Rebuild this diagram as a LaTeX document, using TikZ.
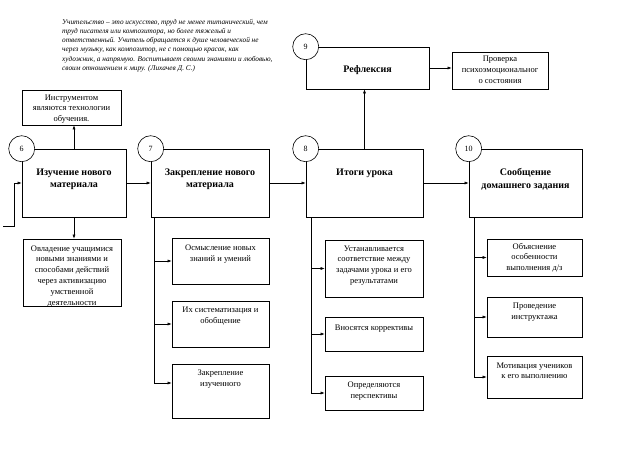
\documentclass[tikz,border=0pt]{standalone}
\usepackage{fontspec}
\setmainfont{Liberation Serif}
\usetikzlibrary{arrows.meta}
% text block of a box: width, height, top gap, text
\newcommand{\inbox}[4]{\parbox[c][#2][t]{#1}{\centering\vspace*{#3}#4\par}}

\begin{document}
\begin{tikzpicture}[x=1pt,y=-1pt,
  box/.style={draw,line width=0.6pt,inner sep=0pt,font=\fontsize{10}{12.5}\selectfont\bfseries},
  subbox/.style={draw,line width=0.6pt,inner sep=0pt,font=\fontsize{8.5}{10.8}\selectfont},
  num/.style={draw,circle,fill=white,line width=0.6pt,minimum size=26pt,inner sep=0pt,font=\fontsize{8}{9}\selectfont},
  arr/.style={-{Latex[length=4pt,width=3pt]},line width=0.5pt}]
  \useasboundingbox (0,0) rectangle (638,452);
  % quotation
  \node[anchor=north west,align=left,inner sep=0pt,font=\fontsize{7.3}{9.2}\selectfont\itshape] (quote) at (62,19)
    {Учительство -- это искусство, труд не менее титанический, чем\\
     труд писателя или композитора, но более тяжелый и\\
     ответственный. Учитель обращается к душе человеческой не\\
     через музыку, как композитор, не с помощью красок, как\\
     художник, а напрямую. Воспитывает своими знаниями и любовью,\\
     своим отношением к миру. (Лихачев Д. С.)};
  % main stages
  \node[box] (izuch) at (74,183) {\inbox{104pt}{68pt}{19.5pt}{Изучение нового\\ материала}};
  \node[box] (zakr) at (210,183) {\inbox{118pt}{68pt}{19.5pt}{Закрепление нового\\ материала}};
  \node[box] (itogi) at (364.5,183) {\inbox{117pt}{68pt}{20pt}{Итоги урока}};
  \node[box] (soob) at (525.5,183) {\inbox{113pt}{68pt}{19.5pt}{Сообщение\\ домашнего задания}};
  \node[box] (refl) at (367.5,68) {\inbox{123pt}{42pt}{18.5pt}{Рефлексия}};
  \node[num] (n6) at (izuch.north west) {6};
  \node[num] (n7) at (zakr.north west) {7};
  \node[num] (n8) at (itogi.north west) {8};
  \node[num] (n9) at (refl.north west) {9};
  \node[num] (n10) at (soob.north west) {10};
  % side boxes
  \node[subbox] (instr) at (71.5,107.5) {\inbox{99pt}{35pt}{4.5pt}{Инструментом\\ являются технологии\\ обучения.}};
  \node[subbox] (ovl) at (72,272.5) {\inbox{98pt}{67pt}{6.5pt}{Овладение учащимися\\ новыми знаниями и\\ способами действий\\ через активизацию\\ умственной\\ деятельности}};
  \node[subbox] (prov) at (500,70.5) {\inbox{96pt}{37pt}{4pt}{Проверка\\ психоэмоциональног\\ о состояния}};
  \node[subbox] (s71) at (220.5,261) {\inbox{97pt}{46pt}{7pt}{Осмысление новых\\ знаний и умений}};
  \node[subbox] (s72) at (220.5,324) {\inbox{97pt}{46pt}{6pt}{Их систематизация и\\ обобщение}};
  \node[subbox] (s73) at (220.5,391) {\inbox{97pt}{54pt}{6pt}{Закрепление\\ изученного}};
  \node[subbox] (s81) at (374,268.5) {\inbox{98pt}{57pt}{5.5pt}{Устанавливается\\ соответствие между\\ задачами урока и его\\ результатами}};
  \node[subbox] (s82) at (374,334) {\inbox{98pt}{34pt}{7.5pt}{Вносятся коррективы}};
  \node[subbox] (s83) at (374,393) {\inbox{98pt}{34pt}{6pt}{Определяются\\ перспективы}};
  \node[subbox] (s101) at (534.5,257.5) {\inbox{95pt}{37pt}{4pt}{Объяснение\\ особенности\\ выполнения д/з}};
  \node[subbox] (s102) at (534.5,317) {\inbox{95pt}{40pt}{6pt}{Проведение\\ инструктажа}};
  \node[subbox] (s103) at (534.5,377) {\inbox{95pt}{42pt}{6.5pt}{Мотивация учеников\\ к его выполнению}};
  % connectors
  \coordinate (loopin) at (3,226);
  \coordinate (loopturn) at (14,226);
  \draw[arr] (loopin) -- (loopturn) |- (izuch.west);
  \draw[arr] (izuch.north) -- (izuch.north |- instr.south);
  \draw[arr] (izuch.south) -- (izuch.south |- ovl.north);
  \draw[arr] (izuch.east) -- (zakr.west);
  \draw[arr] (zakr.east) -- (itogi.west);
  \draw[arr] (itogi.east) -- (soob.west);
  \draw[arr] (itogi.north) -- (itogi.north |- refl.south);
  \draw[arr] (refl.east) -- (refl.east -| prov.west);
  \foreach \s in {s71,s72}
    \draw[arr] ([xshift=4pt]zakr.south west) |- (\s.west);
  \draw[arr] ([xshift=4pt]zakr.south west) |- ([yshift=8pt]s73.west);
  \foreach \s in {s81,s82,s83}
    \draw[arr] ([xshift=6pt]itogi.south west) |- (\s.west);
  \foreach \s in {s101,s102,s103}
    \draw[arr] ([xshift=6pt]soob.south west) |- (\s.west);
\end{tikzpicture}
\end{document}
